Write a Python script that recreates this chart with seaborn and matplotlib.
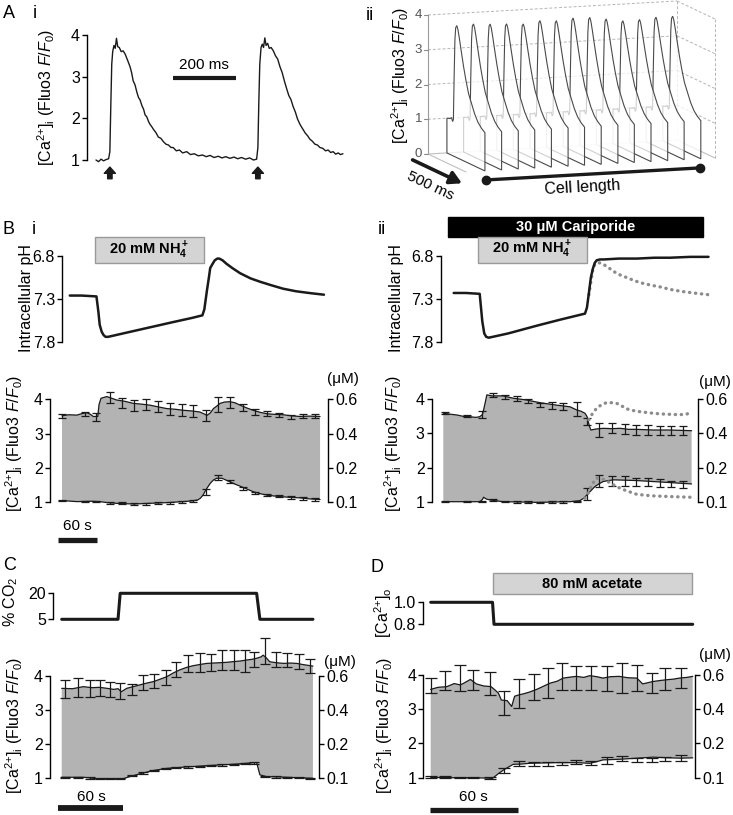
import numpy as np
import pandas as pd
import seaborn as sns
import matplotlib
matplotlib.use("Agg")
import matplotlib.pyplot as plt
from matplotlib.patches import Rectangle

# ======================= DATA =======================
# --- A i: single-cell Ca transient (time in ms, Fluo3 F/F0)
ai_t = [0, 8, 16, 24, 32, 40, 44, 47, 50, 53,
        57, 61, 65, 69, 74, 80, 86, 92, 100, 108,
        113, 118, 124, 130, 135, 140, 146, 151, 156, 161,
        167, 172, 177, 182, 190, 198, 206, 214, 222, 230,
        238, 245, 255, 265, 275, 288, 300, 312, 325, 338,
        350, 362, 375, 388, 400, 412, 425, 438, 450, 462,
        475, 488, 500, 510, 514, 517, 520, 524, 528, 532,
        536, 540, 545, 550, 556, 563, 570, 577, 584, 591,
        598, 605, 612, 619, 626, 633, 640, 648, 656, 664,
        672, 679, 687, 695, 703, 711, 720, 729, 737, 745,
        753, 761, 769, 776, 784]
ai_v = [1.0, 0.96, 1.02, 0.98, 1.01, 1.03, 1.2, 2.3, 3.3, 3.6,
        3.75, 3.68, 3.92, 3.72, 3.7, 3.6, 3.62, 3.55, 3.4, 3.24,
        3.1, 2.9, 2.8, 2.62, 2.5, 2.44, 2.3, 2.22, 2.08, 2.04,
        1.92, 1.85, 1.8, 1.74, 1.66, 1.55, 1.52, 1.44, 1.38, 1.36,
        1.3, 1.3, 1.22, 1.24, 1.17, 1.2, 1.13, 1.15, 1.1, 1.12,
        1.08, 1.11, 1.06, 1.09, 1.05, 1.08, 1.04, 1.07, 1.03, 1.06,
        1.02, 1.05, 1.0, 1.02, 1.3, 2.4, 3.3, 3.7, 3.78, 3.7,
        3.93, 3.75, 3.8, 3.68, 3.7, 3.62, 3.5, 3.42, 3.24, 3.1,
        2.9, 2.72, 2.55, 2.45, 2.28, 2.15, 1.98, 1.85, 1.75, 1.65,
        1.58, 1.5, 1.45, 1.38, 1.36, 1.3, 1.28, 1.22, 1.24, 1.18,
        1.2, 1.14, 1.17, 1.13, 1.15]
ai_stim_t = [44, 514]

# --- A ii: transient shape along the time axis (fraction of 500 ms) and peaks per position
aii_shape_u = [0, 0.08, 0.12, 0.15, 0.17, 0.19, 0.21, 0.23, 0.26, 0.29,
               0.33, 0.38, 0.44, 0.50, 0.57, 0.65, 0.73, 0.82, 0.91, 1.0]
aii_shape_v = [1.0, 1.03, 1.08, 0.98, 1.05, 2.3, 3.35, 3.72, 3.8, 3.7,
               3.45, 3.1, 2.7, 2.35, 2.0, 1.75, 1.5, 1.3, 1.18, 1.1]
aii_peaks = [3.8, 3.82, 3.79, 3.77, 3.74, 3.81, 3.78, 3.83, 3.82, 3.75, 3.67, 3.68, 3.72, 3.72]
aii_cell_pos = [0.076, 0.143, 0.21, 0.276, 0.343, 0.41, 0.476,
                0.543, 0.61, 0.676, 0.743, 0.81, 0.876, 0.943]

# --- B i: pH (time in s)
bi_ph_t = [12, 30, 53, 56, 58, 61, 64, 67, 71, 100, 135, 170, 200, 216,
           219, 223, 226, 228, 231, 235, 239, 242, 247, 253,
           262, 274, 290, 305, 322, 340, 360, 380, 403]
bi_ph_v = [7.26, 7.26, 7.27, 7.45, 7.6, 7.68, 7.72, 7.74, 7.74, 7.69, 7.63, 7.57, 7.52, 7.49,
           7.42, 7.2, 7.05, 6.94, 6.9, 6.85, 6.83, 6.83, 6.85, 6.89,
           6.94, 7.0, 7.06, 7.1, 7.14, 7.18, 7.21, 7.23, 7.25]
bi_nh4 = [50, 218]

# --- B i: Ca (upper = systolic, lower = diastolic)
bi_up_t = [0, 10, 23, 30, 38, 44, 48, 55, 57, 60,
           69, 84, 97, 110, 122, 135, 148, 161, 174, 187,
           200, 212, 218, 223, 228, 233, 238, 243, 250, 258,
           266, 274, 284, 294, 305, 315, 328, 340, 353, 366,
           380, 397]
bi_up_v = [3.52, 3.55, 3.54, 3.58, 3.61, 3.56, 3.5, 3.5, 3.85, 4.03,
           4.08, 3.98, 3.94, 3.88, 3.86, 3.83, 3.78, 3.73, 3.71, 3.68,
           3.66, 3.63, 3.58, 3.53, 3.6, 3.73, 3.8, 3.88, 3.92, 3.93,
           3.9, 3.83, 3.75, 3.68, 3.62, 3.58, 3.56, 3.55, 3.52, 3.5,
           3.51, 3.5]
bi_lo_t = [0, 23, 45, 58, 70, 84, 97, 110, 135, 161,
           187, 200, 209, 213, 217, 222, 228, 233, 238, 246,
           252, 258, 266, 274, 284, 294, 305, 315, 328, 340,
           353, 366, 380, 397]
bi_lo_v = [1.05, 1.02, 1.03, 1.02, 0.99, 0.97, 0.96, 0.95, 0.97, 0.99,
           1.02, 1.04, 1.07, 1.12, 1.21, 1.38, 1.55, 1.65, 1.7, 1.7,
           1.65, 1.6, 1.53, 1.47, 1.39, 1.31, 1.25, 1.21, 1.18, 1.16,
           1.14, 1.13, 1.1, 1.08]
bi_err_t = [0, 35, 53, 74, 92, 110, 129, 148, 166, 184, 202, 222, 240, 258, 278, 297, 315, 334, 353, 371, 389]
bi_up_m = [3.52, 3.58, 3.48, 4.05, 3.9, 3.83, 3.85, 3.79, 3.72, 3.68, 3.65, 3.52, 3.85, 3.9, 3.77, 3.63, 3.58, 3.54, 3.49, 3.51, 3.51]
bi_up_e = [0.06, 0.06, 0.11, 0.17, 0.14, 0.16, 0.15, 0.16, 0.17, 0.17, 0.18, 0.16, 0.21, 0.16, 0.1, 0.08, 0.08, 0.06, 0.06, 0.06, 0.06]
bi_lo_m = [1.05, 1.03, 1.02, 0.99, 0.97, 0.95, 0.96, 0.97, 0.99, 1.01, 1.03, 1.3, 1.72, 1.6, 1.4, 1.27, 1.21, 1.17, 1.13, 1.1, 1.08]
bi_lo_e = [0.02, 0.02, 0.02, 0.03, 0.03, 0.03, 0.03, 0.03, 0.03, 0.03, 0.03, 0.1, 0.08, 0.05, 0.04, 0.03, 0.03, 0.03, 0.04, 0.04, 0.05]

# --- B ii: pH with cariporide, and control (dotted)
bii_ph_t = [16, 35, 56, 58, 60, 63, 66, 70, 100, 144, 180, 218,
            221, 224, 227, 230, 233, 236, 241, 247, 270, 298, 325, 349, 380, 408]
bii_ph_v = [7.23, 7.23, 7.24, 7.4, 7.56, 7.7, 7.74, 7.75, 7.7, 7.61, 7.54, 7.47,
            7.4, 7.23, 7.05, 6.95, 6.88, 6.85, 6.84, 6.84, 6.83, 6.83, 6.82, 6.82, 6.81, 6.81]
bii_ctl_t = [224, 227, 230, 233, 236, 241, 247, 255, 262, 272,
             282, 295, 308, 320, 334, 350, 365, 385, 408]
bii_ctl_v = [7.25, 7.1, 6.96, 6.9, 6.88, 6.88, 6.9, 6.94, 6.98, 7.02,
             7.05, 7.09, 7.12, 7.14, 7.16, 7.19, 7.21, 7.23, 7.25]
bii_nh4 = [53, 221]
bii_cari = [7, 400]

bii_up_t = [0, 12, 21, 31, 41, 50, 56, 60, 62, 65,
            67, 75, 92, 108, 128, 149, 174, 195, 205, 212,
            218, 221, 223, 225, 227, 235, 246, 259, 272, 285,
            297, 310, 323, 336, 349, 365, 382]
bii_up_v = [3.59, 3.56, 3.54, 3.5, 3.49, 3.47, 3.49, 3.55, 3.69, 3.95,
            4.13, 4.1, 4.1, 4.03, 3.98, 3.9, 3.83, 3.78, 3.69, 3.65,
            3.59, 3.5, 3.35, 3.2, 3.1, 3.13, 3.15, 3.14, 3.15, 3.12,
            3.12, 3.11, 3.1, 3.1, 3.1, 3.09, 3.08]
bii_lo_t = [0, 30, 56, 60, 62, 66, 72, 92, 120, 144,
            170, 195, 210, 216, 221, 227, 233, 240, 246, 254,
            262, 280, 297, 323, 349, 365, 382]
bii_lo_v = [1.0, 1.0, 1.0, 1.06, 1.13, 1.08, 1.05, 1.0, 0.99, 0.98,
            0.99, 1.0, 1.03, 1.1, 1.2, 1.32, 1.44, 1.53, 1.59, 1.62,
            1.64, 1.63, 1.62, 1.59, 1.56, 1.54, 1.52]
bii_cup_t = [224, 230, 236, 244, 251, 259, 267, 275, 282, 290,
             297, 310, 323, 336, 349, 362, 374, 382]
bii_cup_v = [3.4, 3.6, 3.74, 3.85, 3.9, 3.9, 3.88, 3.8, 3.72, 3.68,
             3.65, 3.62, 3.59, 3.57, 3.56, 3.55, 3.56, 3.64]
bii_clo_t = [218, 223, 228, 236, 244, 251, 259, 267, 275, 282, 297, 310, 323, 336, 349, 365, 382]
bii_clo_v = [1.1, 1.25, 1.49, 1.69, 1.67, 1.62, 1.52, 1.44, 1.37, 1.32, 1.22, 1.19, 1.17, 1.16, 1.15, 1.14, 1.13]
bii_err_t = [3, 36, 59, 77, 95, 113, 131, 149, 167, 184, 205, 221, 239, 259, 280, 297, 315, 333, 351, 369]
bii_up_m = [3.6, 3.5, 3.55, 4.12, 4.08, 4.03, 3.96, 3.83, 3.81, 3.78, 3.71, 3.36, 3.1, 3.15, 3.13, 3.11, 3.11, 3.09, 3.09, 3.09]
bii_up_e = [0.04, 0.03, 0.1, 0.06, 0.06, 0.07, 0.06, 0.07, 0.1, 0.1, 0.21, 0.1, 0.2, 0.15, 0.15, 0.15, 0.15, 0.13, 0.13, 0.13]
bii_lo_m = [1.0, 1.0, 1.0, 1.04, 1.0, 0.99, 0.99, 0.98, 0.99, 0.99, 1.01, 1.23, 1.6, 1.6, 1.6, 1.58, 1.57, 1.55, 1.52, 1.5]
bii_lo_e = [0.02, 0.02, 0.02, 0.03, 0.02, 0.02, 0.02, 0.02, 0.02, 0.02, 0.02, 0.17, 0.17, 0.15, 0.14, 0.11, 0.12, 0.11, 0.1, 0.1]

# --- C: % CO2 step and Ca
co2_t = [0, 52, 54, 180, 183, 232]
co2_v = [5, 5, 20, 20, 5, 5]
c_up_t = [0, 10, 20, 28, 35, 42, 48, 52, 55, 60,
          66, 72, 78, 85, 91, 97, 103, 109, 115, 121,
          128, 134, 140, 146, 152, 158, 165, 171, 176, 180,
          184, 186, 189, 192, 198, 205, 211, 217, 222, 226,
          232]
c_up_v = [3.63, 3.62, 3.68, 3.65, 3.66, 3.63, 3.6, 3.62, 3.53, 3.63,
          3.68, 3.73, 3.78, 3.83, 3.9, 3.97, 4.08, 4.17, 4.24, 4.29,
          4.33, 4.36, 4.37, 4.38, 4.39, 4.41, 4.43, 4.46, 4.48, 4.51,
          4.55, 4.6, 4.52, 4.41, 4.38, 4.36, 4.37, 4.36, 4.33, 4.31,
          4.28]
c_lo_t = [0, 20, 32, 45, 57, 63, 72, 85, 97, 115, 134, 158, 180, 183, 189, 208, 232]
c_lo_v = [1.03, 1.03, 0.99, 0.99, 0.99, 1.05, 1.13, 1.23, 1.29, 1.33, 1.37, 1.41, 1.46, 1.1, 1.05, 1.03, 1.0]
c_err_t = [3, 15, 26, 35, 45, 54, 65, 75, 85, 96, 106, 117, 128, 138, 148, 159, 169, 178, 188, 198, 208, 219, 229]
c_up_m = [3.6, 3.66, 3.63, 3.64, 3.61, 3.56, 3.6, 3.79, 3.85, 3.96, 4.17, 4.35, 4.39, 4.39, 4.45, 4.45, 4.42, 4.48, 4.72, 4.48, 4.46, 4.42, 4.29]
c_up_e = [0.26, 0.27, 0.24, 0.22, 0.22, 0.23, 0.17, 0.22, 0.2, 0.22, 0.22, 0.25, 0.27, 0.25, 0.29, 0.29, 0.32, 0.22, 0.37, 0.22, 0.2, 0.22, 0.21]
c_lo_m = [1.03, 1.03, 1.01, 0.99, 0.99, 0.99, 1.08, 1.15, 1.23, 1.29, 1.31, 1.33, 1.35, 1.37, 1.39, 1.41, 1.43, 1.45, 1.06, 1.04, 1.03, 1.02, 1.0]
c_lo_e = [0.02, 0.02, 0.02, 0.02, 0.02, 0.02, 0.02, 0.02, 0.02, 0.02, 0.02, 0.02, 0.02, 0.02, 0.02, 0.02, 0.02, 0.03, 0.02, 0.02, 0.02, 0.02, 0.02]

# --- D: [Ca2+]o step, acetate and Ca
cao_t = [0, 42, 43, 178]
cao_v = [1.0, 1.0, 0.8, 0.8]
d_acetate = [42.5, 177.3]
d_up_t = [0, 5, 11, 16, 20, 22, 27, 31, 36, 41,
          44, 46, 48, 52, 55, 57, 60, 63, 67, 72,
          76, 81, 86, 90, 95, 99, 104, 108, 113, 117,
          122, 128, 134, 140, 144, 148, 151, 156, 160, 165,
          169, 174, 178]
d_up_v = [3.58, 3.64, 3.66, 3.75, 3.71, 3.75, 3.87, 3.74, 3.68, 3.66,
          3.55, 3.47, 3.27, 3.25, 3.08, 3.38, 3.42, 3.45, 3.5, 3.58,
          3.66, 3.76, 3.82, 3.91, 3.94, 3.96, 3.93, 3.98, 3.95, 3.91,
          3.95, 3.96, 3.92, 3.91, 3.74, 3.78, 3.81, 3.84, 3.86, 3.88,
          3.91, 3.93, 3.96]
d_lo_t = [0, 15, 30, 42, 46, 50, 56, 62, 67, 76, 85, 99, 108, 113, 117, 129, 140, 151, 162, 170, 178]
d_lo_v = [1.01, 1.0, 1.0, 0.98, 1.12, 1.24, 1.39, 1.4, 1.42, 1.43, 1.44, 1.44, 1.42, 1.47, 1.52, 1.54, 1.57, 1.6, 1.58, 1.57, 1.58]
d_err_t = [0, 10, 20, 29, 40, 50, 60, 70, 80, 89, 99, 109, 120, 130, 140, 150, 159, 170]
d_up_m = [3.69, 3.84, 3.91, 3.86, 3.76, 3.18, 3.45, 3.65, 3.76, 3.96, 3.92, 3.92, 3.89, 3.91, 3.91, 3.76, 3.89, 3.91]
d_up_e = [0.22, 0.27, 0.39, 0.29, 0.34, 0.34, 0.42, 0.37, 0.44, 0.39, 0.35, 0.35, 0.37, 0.44, 0.39, 0.29, 0.32, 0.29]
d_lo_m = [1.02, 1.02, 1.01, 1.0, 0.99, 1.2, 1.42, 1.4, 1.4, 1.42, 1.45, 1.44, 1.5, 1.55, 1.52, 1.52, 1.55, 1.57]
d_lo_e = [0.03, 0.02, 0.02, 0.02, 0.02, 0.07, 0.08, 0.06, 0.05, 0.05, 0.06, 0.06, 0.1, 0.07, 0.07, 0.07, 0.06, 0.08]

ca_right_labels = ['0.1', '0.2', '0.4', '0.6']

# ======================= STYLE =======================
sns.set_theme(style="ticks")
plt.rcParams.update({
    'font.family': ['Liberation Sans', 'DejaVu Sans'],
    'mathtext.fontset': 'custom',
    'mathtext.rm': 'Liberation Sans',
    'mathtext.it': 'Liberation Sans:italic',
    'mathtext.bf': 'Liberation Sans:bold',
    'mathtext.default': 'regular',
    'axes.edgecolor': 'black',
    'axes.linewidth': 1.0,
    'xtick.color': 'black',
    'ytick.color': 'black',
    'text.color': 'black',
})

TICK = 11.5
LABEL = 10.5
YLAB = 11.5
PANEL = 13
FILL = '#b3b3b3'
CA_LABEL = r'[Ca$^{2{+}}$]$_\mathrm{i}$ (Fluo3 $\mathit{F/F}_0$)'

W, H = 733, 815
fig = plt.figure(figsize=(W / 100, H / 100), dpi=100)


def add_ax(x0, x1, y0, y1):
    return fig.add_axes([x0 / W, 1 - y1 / H, (x1 - x0) / W, (y1 - y0) / H])


def lin(p, pa, va, pb, vb):
    return va + (p - pa) * (vb - va) / (pb - pa)


def ftext(X, Y, s, **kw):
    return fig.text(X / W, 1 - Y / H, s, **kw)


def time_ax(x0, x1, y0, y1, X0, pps, Ya, va, Yb, vb):
    ax = add_ax(x0, x1, y0, y1)
    ax.set_xlim((x0 - X0) / pps, (x1 - X0) / pps)
    ax.set_ylim(lin(y1, Ya, va, Yb, vb), lin(y0, Ya, va, Yb, vb))
    ax.set_facecolor('none')
    for s in ['top', 'right', 'bottom']:
        ax.spines[s].set_visible(False)
    ax.set_xticks([])
    ax.tick_params(axis='x', bottom=False, labelbottom=False)
    ax.tick_params(axis='y', left=True, direction='out', length=3.5, width=1,
                   labelsize=TICK, pad=1.5)
    return ax


def line(ax, t, v, lw=0.9, color='k', **kw):
    sns.lineplot(x=np.asarray(t, float), y=np.asarray(v, float), ax=ax, color=color,
                 linewidth=lw, estimator=None, sort=False, legend=False, **kw)


def ca_panel(ax, up_t, up_v, lo_t, lo_v, err_t, up_m, up_e, lo_m, lo_e, cap=3.2):
    up_t = np.asarray(up_t, float); lo_t = np.asarray(lo_t, float)
    ax.fill(np.r_[up_t, lo_t[::-1]], np.r_[up_v, np.asarray(lo_v)[::-1]],
            color=FILL, lw=0, zorder=1)
    line(ax, up_t, up_v, lw=0.9, zorder=3)
    line(ax, lo_t, lo_v, lw=0.9, zorder=3)
    for m, e in [(up_m, up_e), (lo_m, lo_e)]:
        eb = ax.errorbar(err_t, m, yerr=e, fmt='none', ecolor='k', elinewidth=0.9,
                         capsize=cap, capthick=0.9, zorder=4)
        for art in eb.lines[1] + eb.lines[2]:
            art.set_clip_on(False)
    ax.set_yticks([1, 2, 3, 4])
    ax.set_yticklabels(['1', '2', '3', '4'])
    ax.spines['left'].set_bounds(1, 4)
    ax2 = ax.twinx()
    ax2.set_ylim(ax.get_ylim())
    ax2.set_yticks([1, 2, 3, 4])
    ax2.set_yticklabels(ca_right_labels)
    for s in ['top', 'left', 'bottom']:
        ax2.spines[s].set_visible(False)
    ax2.spines['right'].set_bounds(1, 4)
    ax2.tick_params(axis='y', right=True, left=False, labelright=True, labelleft=False,
                    direction='out', length=3.5, width=1, labelsize=TICK, pad=1.5)
    ax2.tick_params(axis='x', bottom=False, labelbottom=False)
    return ax2


def label_box(ax, x0, x1, y0, y1, text, face='#d4d4d4', edge='#9a9a9a', tcolor='black'):
    ax.add_patch(Rectangle((x0, y0), x1 - x0, y1 - y0, facecolor=face, edgecolor=edge,
                           lw=1, clip_on=False, zorder=5))
    ax.text((x0 + x1) / 2, (y0 + y1) / 2, text, ha='center', va='center',
            fontsize=10.5, fontweight='bold', color=tcolor, zorder=6, clip_on=False)


# ======================= PANEL A i =======================
axAi = time_ax(87, 345, 28, 182, 96, 1 / 3.175, 160, 1, 35, 4)
line(axAi, ai_t, ai_v, lw=1.0)
axAi.set_yticks([1, 2, 3, 4])
axAi.spines['left'].set_bounds(1, 4)
for ts in ai_stim_t:
    axAi.annotate('', xy=(ts, 0.83), xytext=(ts, 0.55), annotation_clip=False,
                  arrowprops=dict(arrowstyle='simple,head_length=0.45,head_width=0.8,tail_width=0.32',
                                  fc='k', ec='k', mutation_scale=10, shrinkA=0, shrinkB=0))
axAi.plot([244, 444], [2.97, 2.97], color='k', lw=3, solid_capstyle='butt')
axAi.text(344, 3.27, '200 ms', ha='center', va='center', fontsize=LABEL + 0.5)
ftext(46, 97, CA_LABEL, rotation=90, ha='center', va='center', fontsize=YLAB)

# ======================= PANEL A ii (oblique waterfall) =======================
axAii = add_ax(360, 733, 0, 200)
axAii.set_xlim(360, 733)
axAii.set_ylim(200, 0)
axAii.axis('off')


def proj(c, u, z):
    c = np.asarray(c, float); u = np.asarray(u, float); z = np.asarray(z, float)
    return 428 + 249 * c + 38 * u, 154 - 14 * c + 18 * u - 34.75 * z


GRID = '#b5b5b5'
for z in [1, 2, 3, 4]:
    X, Y = proj([0, 1], [0, 0], [z, z])
    axAii.plot(X, Y, color=GRID, lw=0.7, ls=(0, (3, 2)), zorder=1)
    X, Y = proj([1, 1], [0, 1], [z, z])
    axAii.plot(X, Y, color=GRID, lw=0.7, ls=(0, (3, 2)), zorder=1)
for uu in [0, 1]:
    X, Y = proj([1, 1], [uu, uu], [0, 4])
    axAii.plot(X, Y, color=GRID, lw=0.7, ls=(0, (3, 2)), zorder=1)
X, Y = proj([0, 0], [0, 0], [0, 4])
axAii.plot(X, Y, color='#9a9a9a', lw=0.8, zorder=1)
for cc, uu in [([0, 1], [0, 0]), ([1, 1], [0, 1]), ([0, 0], [0, 1])]:
    X, Y = proj(cc, uu, [0, 0])
    axAii.plot(X, Y, color='#c0c0c0', lw=0.8, zorder=1)
for z in [0, 1, 2, 3, 4]:
    X, Y = proj(0, 0, z)
    axAii.plot([X - 4, X], [Y, Y], color='#8a8a8a', lw=0.8, zorder=1)
    axAii.text(X - 6, Y, str(z), ha='right', va='center', fontsize=9.5, color='#555555')

shape_u = np.asarray(aii_shape_u, float)
shape_v = np.asarray(aii_shape_v, float)
for k in range(len(aii_peaks) - 1, -1, -1):
    v = 1 + (shape_v - 1) * (aii_peaks[k] - 1) / (shape_v.max() - 1)
    uu = np.r_[0, shape_u, 1]
    zz = np.r_[0, v, 0]
    X, Y = proj(np.full_like(uu, aii_cell_pos[k]), uu, zz)
    axAii.fill(X, Y, facecolor=(1, 1, 1, 0.74), edgecolor='#4a4a4a', lw=0.8,
               zorder=3 + (len(aii_peaks) - k))

xs, ys = proj(-0.1, 0.25, 0)
xe, ye = proj(-0.1, 1.55, 0)
axAii.annotate('', xy=(xe, ye), xytext=(xs, ys), annotation_clip=False,
               arrowprops=dict(arrowstyle='-|>,head_length=0.5,head_width=0.28', lw=2.6,
                               color='k', mutation_scale=14, shrinkA=0, shrinkB=0))
tx, ty = proj(-0.19, 1.3, 0)
axAii.text(tx, ty + 6, '500 ms', rotation=-25, ha='center', va='center',
           rotation_mode='anchor', fontsize=LABEL + 0.5)
X, Y = proj([0.012, 0.87], [1.45, 1.45], [0, 0])
axAii.plot(X, Y, color='k', lw=2.4, marker='o', markersize=6, zorder=20, clip_on=False)
tx, ty = proj(0.306, 2.07, 0)
axAii.text(tx, ty, 'Cell length', rotation=3.2, ha='center', va='center',
           rotation_mode='anchor', fontsize=LABEL + 1)
ftext(400, 75, CA_LABEL, rotation=90, ha='center', va='center', fontsize=YLAB)

# ======================= PANEL B i =======================
axBiph = time_ax(62, 330, 236, 346, 62, 0.65, 256, 6.8, 342, 7.8)
line(axBiph, bi_ph_t, bi_ph_v, lw=1.8)
axBiph.set_yticks([6.8, 7.3, 7.8])
axBiph.set_yticklabels(['6.8', '7.3', '7.8'])
axBiph.spines['left'].set_bounds(6.8, 7.8)
label_box(axBiph, bi_nh4[0], bi_nh4[1], 6.583, 6.885, r'20 mM NH$_4^+$')
ftext(26, 298, 'Intracellular pH', rotation=90, ha='center', va='center', fontsize=YLAB)

axBica = time_ax(50, 328, 385, 510, 62, 0.65, 399.3, 4, 502.3, 1)
ca_panel(axBica, bi_up_t, bi_up_v, bi_lo_t, bi_lo_v, bi_err_t, bi_up_m, bi_up_e, bi_lo_m, bi_lo_e)
axBica.plot([-6, 54], [-0.1, -0.1], color='k', lw=3.8, solid_capstyle='butt', clip_on=False)
axBica.text(24, 0.3, '60 s', ha='center', va='center', fontsize=LABEL + 0.5, clip_on=False)
ftext(14, 443, CA_LABEL, rotation=90, ha='center', va='center', fontsize=YLAB)
ftext(343, 379, '(μM)', ha='center', va='center', fontsize=LABEL + 0.5)

# ======================= PANEL B ii =======================
axBiiph = time_ax(440.7, 712, 236, 346, 443.3, 0.65, 256, 6.8, 342, 7.8)
line(axBiiph, bii_ctl_t, bii_ctl_v, lw=2.4, color='#8c8c8c',
     linestyle=(0, (0.1, 1.7)), dash_capstyle='round')
line(axBiiph, bii_ph_t, bii_ph_v, lw=1.8)
axBiiph.set_yticks([6.8, 7.3, 7.8])
axBiiph.set_yticklabels(['6.8', '7.3', '7.8'])
axBiiph.spines['left'].set_bounds(6.8, 7.8)
label_box(axBiiph, bii_cari[0], bii_cari[1], 6.343, 6.576, '30 μM Cariporide',
          face='black', edge='black', tcolor='white')
label_box(axBiiph, bii_nh4[0], bii_nh4[1], 6.576, 6.878, r'20 mM NH$_4^+$')
ftext(396, 298, 'Intracellular pH', rotation=90, ha='center', va='center', fontsize=YLAB)

axBiica = time_ax(431.7, 698.3, 385, 510, 443.3, 0.65, 399.3, 4, 501.7, 1)
ca_panel(axBiica, bii_up_t, bii_up_v, bii_lo_t, bii_lo_v, bii_err_t, bii_up_m, bii_up_e,
         bii_lo_m, bii_lo_e)
line(axBiica, bii_cup_t, bii_cup_v, lw=2.4, color='#8c8c8c',
     linestyle=(0, (0.1, 1.7)), dash_capstyle='round', zorder=5)
line(axBiica, bii_clo_t, bii_clo_v, lw=2.4, color='#8c8c8c',
     linestyle=(0, (0.1, 1.7)), dash_capstyle='round', zorder=5)
ftext(393, 443, CA_LABEL, rotation=90, ha='center', va='center', fontsize=YLAB)
ftext(715, 382, '(μM)', ha='center', va='center', fontsize=LABEL + 0.5)

# ======================= PANEL C =======================
axCco2 = time_ax(52.7, 320, 585, 625, 61.7, 1.083, 593.3, 20, 619.3, 5)
line(axCco2, co2_t, co2_v, lw=2.2)
axCco2.set_yticks([5, 20])
axCco2.set_yticklabels(['5', '20'])
axCco2.spines['left'].set_bounds(5, 20)
ftext(11, 602, r'% CO$_2$', rotation=90, ha='center', va='center', fontsize=YLAB)

axCca = time_ax(50, 319.3, 635, 790, 61.7, 1.083, 675.7, 4, 778.3, 1)
ca_panel(axCca, c_up_t, c_up_v, c_lo_t, c_lo_v, c_err_t, c_up_m, c_up_e, c_lo_m, c_lo_e, cap=3.5)
axCca.plot([-3, 57], [0.13, 0.13], color='k', lw=4.2, solid_capstyle='butt', clip_on=False)
axCca.text(27, 0.46, '60 s', ha='center', va='center', fontsize=LABEL + 0.5, clip_on=False)
ftext(14, 725, CA_LABEL, rotation=90, ha='center', va='center', fontsize=YLAB)
ftext(340, 662, '(μM)', ha='center', va='center', fontsize=LABEL + 0.5)

# ======================= PANEL D =======================
axDcao = time_ax(422.7, 700, 595, 630, 430.7, 1.472, 602.3, 1.0, 624.3, 0.8)
line(axDcao, cao_t, cao_v, lw=2.2)
axDcao.set_yticks([0.8, 1.0])
axDcao.set_yticklabels(['0.8', '1.0'])
axDcao.spines['left'].set_bounds(0.8, 1.0)
label_box(axDcao, d_acetate[0], d_acetate[1], 1.073, 1.264, '80 mM acetate')
ftext(383, 613, r'[Ca$^{2{+}}$]$_\mathrm{o}$', rotation=90, ha='center', va='center', fontsize=YLAB)

axDca = time_ax(423.3, 695, 640, 790, 430.7, 1.472, 675, 4, 777.7, 1)
ca_panel(axDca, d_up_t, d_up_v, d_lo_t, d_lo_v, d_err_t, d_up_m, d_up_e, d_lo_m, d_lo_e, cap=4.5)
axDca.plot([-0.5, 59.5], [0.056, 0.056], color='k', lw=3.8, solid_capstyle='butt', clip_on=False)
axDca.text(28.7, 0.44, '60 s', ha='center', va='center', fontsize=LABEL + 0.5, clip_on=False)
ftext(384, 725, CA_LABEL, rotation=90, ha='center', va='center', fontsize=YLAB)
ftext(715, 655, '(μM)', ha='center', va='center', fontsize=LABEL + 0.5)

# ======================= panel letters =======================
ftext(3, 14, 'A', ha='left', va='center', fontsize=PANEL)
ftext(33, 14, 'i', ha='left', va='center', fontsize=PANEL)
ftext(366, 16, 'ii', ha='left', va='center', fontsize=PANEL)
ftext(3, 229, 'B', ha='left', va='center', fontsize=PANEL)
ftext(32, 229, 'i', ha='left', va='center', fontsize=PANEL)
ftext(378, 230, 'ii', ha='left', va='center', fontsize=PANEL)
ftext(3, 565, 'C', ha='left', va='center', fontsize=PANEL)
ftext(370, 568, 'D', ha='left', va='center', fontsize=PANEL)

fig.savefig('out.png', dpi=100)
